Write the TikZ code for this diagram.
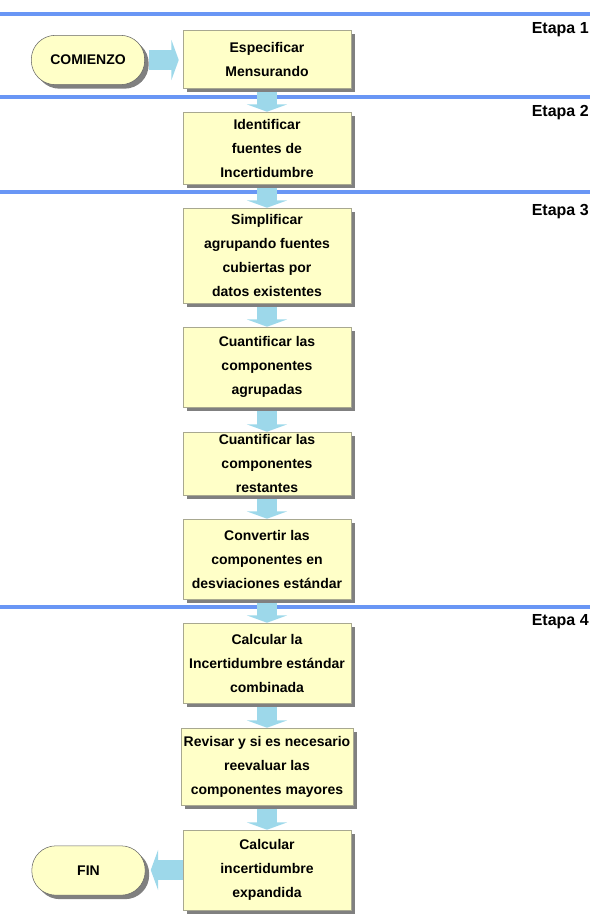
\documentclass[tikz,border=0pt]{standalone}
\usepackage{fontspec}
\setmainfont{Liberation Sans}
\usetikzlibrary{arrows.meta,shadows,backgrounds}
\definecolor{pasofill}{HTML}{FFFFC8}
\definecolor{pasoline}{HTML}{A8A890}
\definecolor{flechafill}{HTML}{9DD8EA}
\definecolor{etapaline}{HTML}{6996F5}
\tikzset{
    paso/.style={draw=pasoline, fill=pasofill, minimum width=126pt, minimum height=#1*0.75pt,
        inner xsep=2pt, inner ysep=1pt, align=center, font=\bfseries\fontsize{10.5}{18}\selectfont,
        drop shadow={shadow xshift=3pt, shadow yshift=-3pt, fill=black!50, opacity=1}},
    terminal/.style={draw=black!60, fill=pasofill, minimum width=85pt, minimum height=37pt,
        rounded corners=18pt, font=\bfseries\fontsize{10.5}{12}\selectfont,
        drop shadow={shadow xshift=3pt, shadow yshift=-3pt, fill=black!50, opacity=1}},
    flecha/.style={flechafill, line width=15pt, -{Triangle[length=5.5pt,width=30pt]}},
    etapa/.style={etapaline, line width=2.8pt},
    etapatext/.style={anchor=east, inner sep=0pt, font=\bfseries\fontsize{12}{14}\selectfont}
}

\begin{document}
\begin{tikzpicture}[x=0.75pt,y=-0.75pt]
\useasboundingbox (0,0) rectangle (606,920);
% etapas
\node[etapatext] (et1) at (589,30) {Etapa 1};
\node[etapatext] (et2) at (589,113) {Etapa 2};
\node[etapatext] (et3) at (589,212) {Etapa 3};
\node[etapatext] (et4) at (589,622) {Etapa 4};
% pasos
\node[terminal] (comienzo) at (88,60) {COMIENZO};
\node[paso=58] (especificar) at (267,59) {Especificar\\Mensurando};
\node[paso=72] (identificar) at (267,148) {Identificar\\fuentes de\\Incertidumbre};
\node[paso=95] (simplificar) at (267,255.5) {Simplificar\\agrupando fuentes\\cubiertas por\\datos existentes};
\node[paso=80] (agrupadas) at (267,367) {Cuantificar las\\componentes\\agrupadas};
\node[paso=63] (restantes) at (267,463.5) {Cuantificar las\\componentes\\restantes};
\node[paso=80] (convertir) at (267,559) {Convertir las\\componentes en\\desviaciones estándar};
\node[paso=80] (combinada) at (267,663) {Calcular la\\Incertidumbre estándar\\combinada};
\node[paso=77] (revisar) at (267,766.5) {Revisar y si es necesario\\reevaluar las\\componentes mayores};
\node[paso=80] (expandida) at (267,870) {Calcular\\incertidumbre\\expandida};
\node[terminal] (fin) at (88.5,870.5) {FIN};
% lineas y flechas detras
\begin{scope}[on background layer]
\draw[etapa] (0,14) -- (590,14);
\draw[etapa] (0,97) -- (590,97);
\draw[etapa] (0,192) -- (590,192);
\draw[etapa] (0,607) -- (590,607);
\draw[flecha, shorten <=3pt, shorten >=3pt] (comienzo.east) -- (comienzo.east -| especificar.west);
\foreach \a/\b in {especificar/identificar, identificar/simplificar, simplificar/agrupadas,
    agrupadas/restantes, restantes/convertir, convertir/combinada, combinada/revisar, revisar/expandida}
    \draw[flecha] (\a.south) -- (\b.north);
\draw[flecha, shorten >=4pt] (expandida.west) -- (expandida.west -| fin.east);
\end{scope}
\end{tikzpicture}
\end{document}
